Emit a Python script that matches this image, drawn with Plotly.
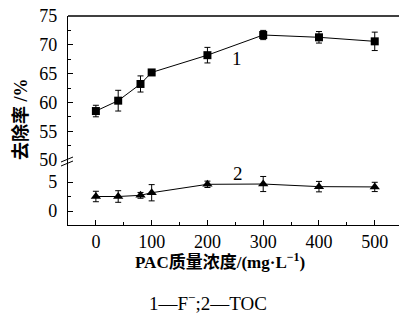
import plotly.graph_objects as go

# Data
pac_dose = [0, 40, 80, 100, 200, 300, 400, 500]
f_removal = [58.5, 60.3, 63.2, 65.2, 68.2, 71.7, 71.3, 70.6]
f_err = [1.0, 1.8, 1.4, 0.5, 1.35, 0.8, 1.0, 1.6]
toc_removal = [2.5, 2.5, 2.7, 3.15, 4.6, 4.65, 4.2, 4.15]
toc_err = [0.9, 1.0, 0.5, 1.4, 0.55, 1.3, 0.9, 0.8]
x_ticks = [0, 100, 200, 300, 400, 500]
upper_ticks = [50, 55, 60, 65, 70, 75]
lower_ticks = [0, 5]

FONT = "Liberation Serif, Times New Roman, Noto Sans CJK SC, serif"
W, H = 399, 320
L, R, T, B = 68, 0, 16, 95
PW, PH = W - L - R, H - T - B


def px(x):
    return (x - L) / PW


def py(y):
    return (H - B - y) / PH


split = 65 / PH

fig = go.Figure()
fig.add_trace(go.Scatter(
    x=pac_dose, y=f_removal, xaxis="x", yaxis="y2", mode="lines+markers",
    line=dict(color="black", width=1),
    marker=dict(symbol="square", size=8, color="black"),
    error_y=dict(type="data", array=f_err, color="black", thickness=1, width=3),
    showlegend=False,
))
fig.add_trace(go.Scatter(
    x=pac_dose, y=toc_removal, xaxis="x", yaxis="y", mode="lines+markers",
    line=dict(color="black", width=1),
    marker=dict(symbol="triangle-up", size=9, color="black"),
    error_y=dict(type="data", array=toc_err, color="black", thickness=1, width=3),
    showlegend=False,
))

axis_common = dict(
    showline=True, linecolor="black", linewidth=1.3, ticks="inside",
    tickcolor="black", tickwidth=1, ticklen=5, showgrid=False, zeroline=False,
    tickfont=dict(family=FONT, size=18, color="black"),
)

fig.update_layout(
    width=W, height=H,
    margin=dict(l=L, r=R, t=T, b=B),
    paper_bgcolor="white", plot_bgcolor="white",
    xaxis=dict(range=[-50, 543.5], tickvals=x_ticks, anchor="y",
               ticklabelstandoff=0,
               minor=dict(tickvals=[50, 150, 250, 350, 450], ticks="inside",
                          ticklen=3, tickcolor="black"),
               **axis_common),
    yaxis=dict(domain=[0, split], range=[-2.41, 8.79], tickvals=lower_ticks,
               anchor="x", ticklabelstandoff=6,
               minor=dict(tickvals=[2.5], ticks="inside", ticklen=3, tickcolor="black"),
               **axis_common),
    yaxis2=dict(domain=[split, 1], range=[50, 75], tickvals=upper_ticks,
                anchor="x", ticklabelstandoff=6,
                minor=dict(dtick=2.5, ticks="inside", ticklen=3, tickcolor="black"),
                **axis_common),
)

# top frame line
fig.add_shape(type="line", xref="paper", yref="paper", x0=0, x1=1, y0=1, y1=1,
              line=dict(color="black", width=1.3))
# axis break marks
for dy in (0, 4):
    fig.add_shape(type="line", xref="paper", yref="paper",
                  x0=px(61), x1=px(73), y0=py(162 + dy), y1=py(157 + dy),
                  line=dict(color="black", width=1))


def label(x, y, text, size=18, angle=0):
    fig.add_annotation(x=px(x), y=py(y), xref="paper", yref="paper", text=text,
                       xanchor="center", yanchor="middle", textangle=angle,
                       showarrow=False,
                       font=dict(family=FONT, size=size, color="black"))


label(237, 58, "1", size=19)
label(238, 173, "2", size=19)
label(220, 261, "<b>PAC质量浓度/(mg·L<sup>−1</sup>)</b>", size=17)
label(20, 119, "<b>去除率 /%</b>", size=18, angle=-90)
label(208, 302, "1—F<sup>−</sup>;2—TOC", size=19)

fig.write_html("out.html")
